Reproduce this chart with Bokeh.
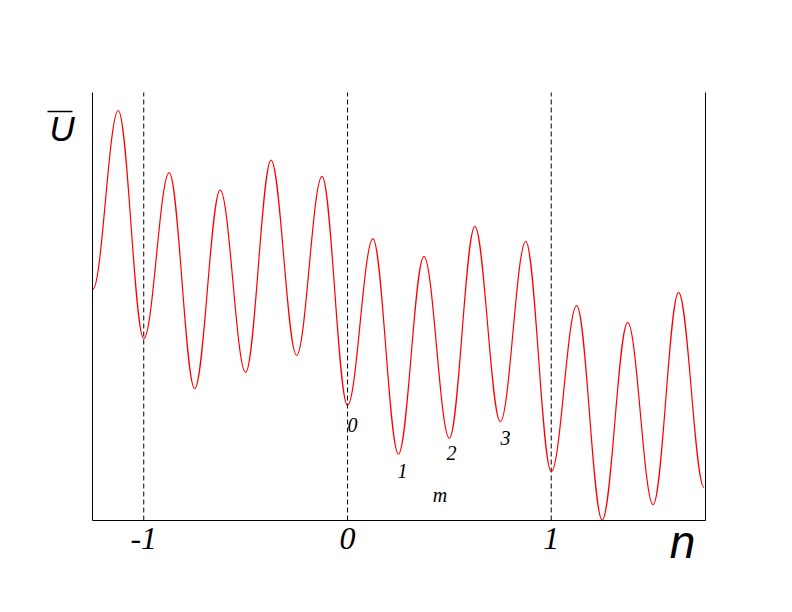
import numpy as np
from bokeh.plotting import figure
from bokeh.models import Range1d, LinearAxis, FixedTicker, Label, ColumnDataSource
from bokeh.embed import file_html
from bokeh.resources import INLINE

# ---- data (extrema of the oscillating potential) ----
n_ext = [-1.25, -1.125, -1.0, -0.875, -0.75, -0.625, -0.5, -0.375, -0.25, -0.125,
         0.0, 0.125, 0.25, 0.375, 0.5, 0.625, 0.75, 0.875, 1.0, 1.125,
         1.25, 1.375, 1.5, 1.625, 1.75]
u_ext = [54.0, 95.8, 42.5, 81.3, 30.8, 77.2, 34.6, 84.2, 38.6, 80.4,
         26.9, 65.8, 15.5, 61.7, 19.2, 68.7, 23.1, 65.2, 11.4, 50.2,
         0.1, 46.3, 3.7, 53.3, 7.7]
tick_values = [-1, 0, 1]
tick_labels = ["-1", "0", "1"]
mode_labels = ["0", "1", "2", "3", "m"]

# plotted box (data units)
x_lo, x_hi = -1.2515, 1.7571
u_lo, u_hi = 0.0, 100.0

# ---- figure: the frame fills the canvas, axes sit at fixed data locations ----
W, H = 776, 596
px_per_n = 203.75
px_per_u = 4.28
x_range = Range1d(x_lo - 92 / px_per_n, x_lo + (W - 92) / px_per_n)
y_range = Range1d(u_lo - (H - 520) / px_per_u, u_lo + 520 / px_per_u)

p = figure(width=W, height=H, output_backend="svg", toolbar_location=None,
           x_range=x_range, y_range=y_range,
           x_axis_location=None, y_axis_location=None,
           min_border=0, min_border_left=0, min_border_right=0,
           min_border_top=0, min_border_bottom=0,
           background_fill_color="white", border_fill_color="white")
p.outline_line_color = None
p.grid.visible = False

# bottom axis
xa_ = LinearAxis(fixed_location=u_lo, bounds=(x_lo, x_hi),
                 ticker=FixedTicker(ticks=tick_values),
                 major_label_overrides={v: s for v, s in zip(tick_values, tick_labels)},
                 major_tick_line_color=None, minor_tick_line_color=None,
                 major_tick_in=0, major_tick_out=0, major_label_standoff=7,
                 major_label_text_font="Liberation Serif",
                 major_label_text_font_style="italic",
                 major_label_text_font_size="32px",
                 major_label_text_align="left",
                 major_label_text_color="black",
                 axis_line_color="black", axis_line_width=1)
p.add_layout(xa_, "below")

# left and right axes: line only
for side, loc in (("left", x_lo), ("right", x_hi)):
    ax = LinearAxis(fixed_location=loc, bounds=(u_lo, u_hi), ticker=FixedTicker(ticks=[]),
                    major_tick_line_color=None, minor_tick_line_color=None,
                    major_label_text_font_size="0px", axis_line_color="black",
                    axis_line_width=1)
    p.add_layout(ax, side)

# dashed vertical lines at integer n
p.segment(x0=tick_values, y0=[u_lo] * len(tick_values), x1=tick_values,
          y1=[u_hi] * len(tick_values), line_color="black", line_width=1, line_dash="5 3")

# curve: smooth segments between successive extrema
k = 0.36
xa = np.array(n_ext[:-1]); xb = np.array(n_ext[1:])
ya = np.array(u_ext[:-1]); yb = np.array(u_ext[1:])
dx = xb - xa
src = ColumnDataSource(dict(x0=xa, y0=ya, x1=xb, y1=yb,
                            cx0=xa + k * dx, cy0=ya, cx1=xb - k * dx, cy1=yb))
p.bezier(x0="x0", y0="y0", x1="x1", y1="y1", cx0="cx0", cy0="cy0", cx1="cx1", cy1="cy1",
         source=src, line_color="#ff0000", line_width=1.2)

# mode labels
mode_label_pos = [(0.0245, 22.2), (0.27, 11.5), (0.51, 15.7), (0.775, 19.2), (0.454, 5.9)]
for t, (lx, ly) in zip(mode_labels, mode_label_pos):
    p.add_layout(Label(x=lx, y=ly, text=t, text_font="Liberation Serif",
                       text_font_style="italic", text_font_size="20px",
                       text_align="center", text_baseline="alphabetic", text_color="black"))

# axis names
p.add_layout(Label(x=1.6442, y=-5.0, text="n",
                   text_font="Liberation Sans", text_font_style="italic", text_font_size="46px",
                   text_align="center", text_baseline="alphabetic", text_color="black"))
p.add_layout(Label(x=-1.4626, y=91.6, text="U",
                   text_font="Liberation Sans", text_font_style="italic", text_font_size="35px",
                   text_align="left", text_baseline="alphabetic", text_color="black"))
# overline of U
p.segment(x0=[-1.4724], y0=[95.56], x1=[-1.3497], y1=[95.56], line_color="black", line_width=1.5)

open("out.html", "w").write(file_html(p, INLINE))
